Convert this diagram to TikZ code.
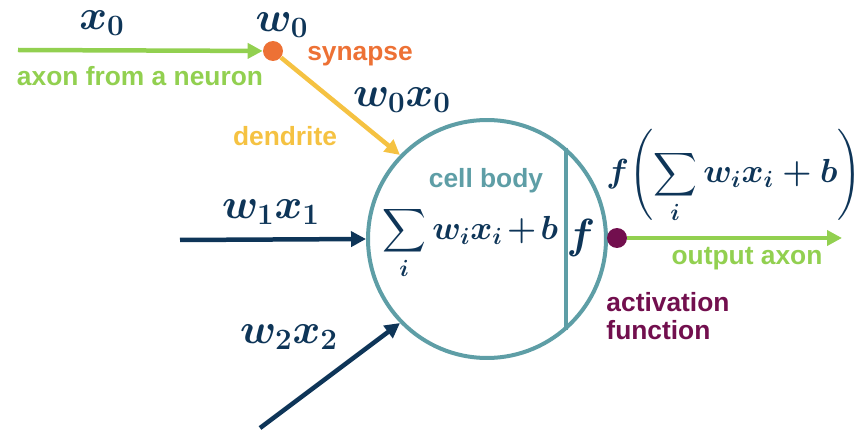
\documentclass[tikz,border=0pt]{standalone}
\usepackage{fix-cm}
\usepackage{amsmath,bm}
\usepackage{fontspec}
\setmainfont{Liberation Sans}
\usetikzlibrary{arrows.meta}

\definecolor{axongreen}{HTML}{92D050}
\definecolor{synorange}{HTML}{ED7135}
\definecolor{dendyellow}{HTML}{F5C242}
\definecolor{bodyteal}{HTML}{5E9EA6}
\definecolor{mathnavy}{HTML}{0E3558}
\definecolor{actpurple}{HTML}{720F4E}

\newcommand{\sumexpr}{\medmuskip=2mu\relax\displaystyle\sum_i w_i x_i + b}

\begin{document}
\begin{tikzpicture}[x=0.02cm, y=-0.02cm, >={Triangle[length=0.3cm,width=0.3cm]},
  wire/.style={line width=0.09cm, ->},
  lbl/.style={font=\bfseries\fontsize{15}{16}\selectfont},
  mlbl/.style={text=mathnavy, font=\boldmath\fontsize{24}{28}\selectfont, inner sep=0pt},
  sumlbl/.style={mlbl, font=\boldmath\fontsize{19}{23}\selectfont},
  dot/.style={circle, fill=#1, minimum size=0.4cm, inner sep=0pt}]

\useasboundingbox (0,0) rectangle (856,432);

% --- Cell body ---
\node[circle, draw=bodyteal, line width=0.08cm, minimum size=4.76cm, inner sep=0pt] (body) at (487,239) {};
\draw[bodyteal, line width=0.08cm] (body.49) -- (body.-49);
\node[lbl, text=bodyteal] (cellbody) at (486,181) {cell body};
\node[sumlbl] (sum) at (470,243) {$\sumexpr$};
\node[mlbl] (f) at (581,238) {$f$};

% --- Input from another neuron ---
\coordinate (axstart) at (18,50);
\node[dot=synorange] (syn) at (273,51) {};
\draw[wire, axongreen] (axstart) -- (syn);
\draw[wire, dendyellow] (syn) -- (body.136);
\node[mlbl] (x0) at (102,23) {$x_0$};
\node[mlbl] (w0) at (282,25) {$w_0$};
\node[mlbl] (w0x0) at (402,100) {$w_0x_0$};
\node[lbl, text=synorange] (synlbl) at (360,56) {synapse};
\node[lbl, text=axongreen] (axlbl) at (140,76) {axon from a neuron};
\node[lbl, text=dendyellow] (dendlbl) at (285,136) {dendrite};

% --- Other inputs ---
\coordinate (in1) at (180,240);
\coordinate (in2) at (260,428);
\draw[wire, mathnavy] (in1) -- (body.180);
\draw[wire, mathnavy] (in2) -- (body.224);
\node[mlbl] (w1x1) at (271,212) {$w_1x_1$};
\node[mlbl] (w2x2) at (289,337) {$w_2x_2$};

% --- Output ---
\node[dot=actpurple] (act) at (617,238) {};
\coordinate (outend) at (842,238);
\draw[wire, axongreen] (act) -- (outend);
\node[sumlbl] (fout) at (734,176) {$\displaystyle f\!\left(\sumexpr\right)$};
\node[lbl, text=axongreen] (outlbl) at (747,259) {output axon};
\node[lbl, text=actpurple, align=left] (actlbl) at (668,316) {activation\\function};

\end{tikzpicture}
\end{document}
